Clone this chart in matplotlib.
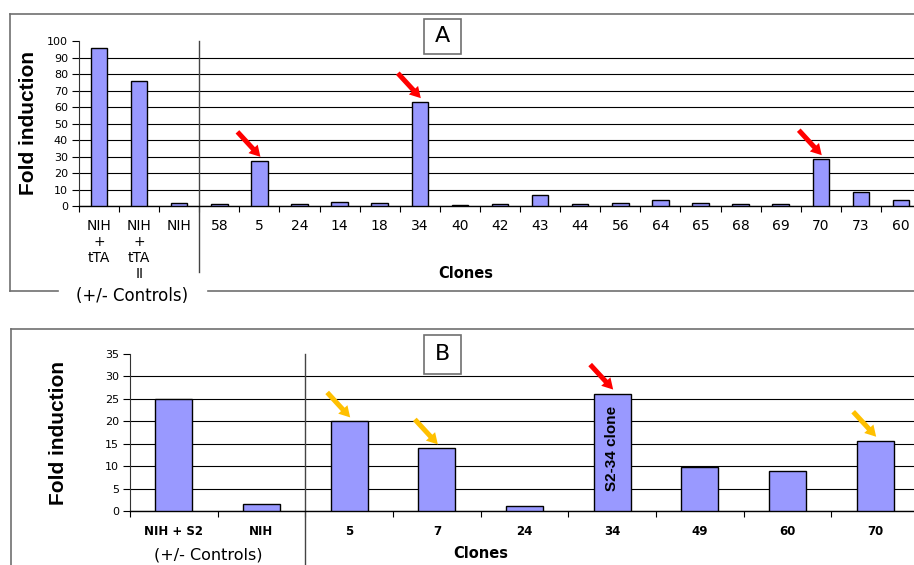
import matplotlib.pyplot as plt
from matplotlib.lines import Line2D
from matplotlib.patches import Rectangle
from matplotlib.transforms import offset_copy

# panel A: fold induction, controls then clones
a_labels = ['NIH\n+\ntTA', 'NIH\n+\ntTA\nII', 'NIH', '58', '5', '24', '14', '18', '34',
            '40', '42', '43', '44', '56', '64', '65', '68', '69', '70', '73', '60']
a_values = [96, 76, 2, 1.5, 27.5, 1.5, 2.8, 2, 63, 0.6, 1.5, 7, 1.5, 2.2, 4, 2.2,
            1.5, 1.5, 28.5, 8.5, 4]
a_red = ['5', '34', '70']

# panel B: S2 controls and selected clones
b_labels = ['NIH + S2', 'NIH', '5', '7', '24', '34', '49', '60', '70']
b_values = [25, 1.6, 20, 14, 1.2, 26.2, 9.8, 9, 15.7]
b_red = ['34']
b_yellow = ['5', '7', '70']

W, H = 914, 565
BAR = '#9999FF'
FRAME = '#707070'

fig = plt.figure(figsize=(W / 100, H / 100), dpi=100)


def px(x, y):
    return x / W, 1 - y / H


def fig_line(xs, ys, **kw):
    fx = [x / W for x in xs]
    fy = [1 - y / H for y in ys]
    fig.add_artist(Line2D(fx, fy, transform=fig.transFigure, **kw))


def setup(ax, labels, values, top, step, lab_size, lab_weight, pad, width):
    n = len(labels)
    x = list(range(n))
    ax.bar(x, values, width=width, color=BAR, edgecolor='black', linewidth=1.0, zorder=3)
    ax.set_xlim(-0.5, n - 0.5)
    ax.set_ylim(0, top)
    ax.set_yticks(range(0, top + 1, step))
    ax.yaxis.grid(True, color='black', linewidth=0.8, zorder=0)
    ax.get_ygridlines()[-1].set_visible(False)
    ax.set_xticks(x)
    ax.set_xticklabels(labels, fontsize=lab_size, fontweight=lab_weight)
    ax.set_xticks([i - 0.5 for i in range(n + 1)], minor=True)
    ax.tick_params(axis='x', which='major', length=0, pad=pad)
    ax.tick_params(axis='x', which='minor', length=4, width=0.8, direction='out')
    ax.tick_params(axis='y', length=5, width=0.8, pad=3, labelsize=8)
    for s in ('top', 'right'):
        ax.spines[s].set_visible(False)
    ax.spines['left'].set_color('#333333')
    ax.spines['bottom'].set_linewidth(1.0)
    ax.set_facecolor('none')


def arrows(ax, labels, values, picks, color):
    tip = offset_copy(ax.transData, fig=fig, x=1, y=4, units='dots')
    for name in picks:
        i = labels.index(name)
        ax.annotate('', xy=(i, values[i]), xycoords=tip,
                    xytext=(-23, 25), textcoords='offset pixels',
                    arrowprops=dict(arrowstyle='simple,head_length=0.65,head_width=0.75,tail_width=0.3',
                                    mutation_scale=12, fc=color, ec='none',
                                    shrinkA=0, shrinkB=0),
                    annotation_clip=False, zorder=5)


# ---- panel A ----
axA = fig.add_axes([79 / W, 1 - 206.3 / H, 842 / W, 165.3 / H])
setup(axA, a_labels, a_values, 100, 10, 10, 'normal', 9, 0.41)
arrows(axA, a_labels, a_values, a_red, '#FF0000')
axA.plot([2.5, 2.5], [100, -40], color='#444444', lw=1.0, clip_on=False)

fig_line([10, 914], [14, 14], color=FRAME, lw=1.2)
fig_line([10, 10], [14, 291], color=FRAME, lw=1.2)
fig_line([10, 58], [291, 291], color=FRAME, lw=1.2)
fig_line([208, 914], [291, 291], color=FRAME, lw=1.2)

fig.text(*px(29, 123), 'Fold induction', rotation=90, ha='center', va='center',
         fontsize=15, fontweight='bold', family='Liberation Sans')
fig.text(*px(466, 274), 'Clones', ha='center', va='center', fontsize=10.5,
         fontweight='bold')
fig.text(*px(132, 296), '(+/- Controls)', ha='center', va='center', fontsize=12)
fig.add_artist(Rectangle(px(424, 54), 37 / W, 35 / H, transform=fig.transFigure,
                         fc='white', ec=FRAME, lw=1.2, zorder=4))
fig.text(*px(442.5, 36.5), 'A', ha='center', va='center', fontsize=16, zorder=5)

# ---- panel B ----
axB = fig.add_axes([130 / W, 1 - 511.3 / H, 789 / W, 157.3 / H])
setup(axB, b_labels, b_values, 35, 5, 8.5, 'bold', 10, 0.42)
arrows(axB, b_labels, b_values, b_red, '#FF0000')
arrows(axB, b_labels, b_values, b_yellow, '#FFC000')
axB.plot([1.5, 1.5], [35, -13], color='#444444', lw=1.0, clip_on=False)

i34 = b_labels.index('34')
axB.text(i34, b_values[i34] / 2 + 0.8, 'S2-34 clone', rotation=90, ha='center',
         va='center', fontsize=11, fontweight='bold', family='Liberation Sans', zorder=4)

fig_line([11, 914], [329, 329], color=FRAME, lw=1.2)
fig_line([11, 11], [329, 565], color=FRAME, lw=1.2)

fig.text(*px(58, 433), 'Fold induction', rotation=90, ha='center', va='center',
         fontsize=15, fontweight='bold', family='Liberation Sans')
fig.text(*px(481, 553), 'Clones', ha='center', va='center', fontsize=10.5,
         fontweight='bold')
fig.text(*px(208, 555), '(+/- Controls)', ha='center', va='center', fontsize=11.5)
fig.add_artist(Rectangle(px(424, 374), 37 / W, 39 / H, transform=fig.transFigure,
                         fc='white', ec=FRAME, lw=1.2, zorder=4))
fig.text(*px(442.5, 354.5), 'B', ha='center', va='center', fontsize=16, zorder=5)

fig.savefig('out.png', dpi=100)
